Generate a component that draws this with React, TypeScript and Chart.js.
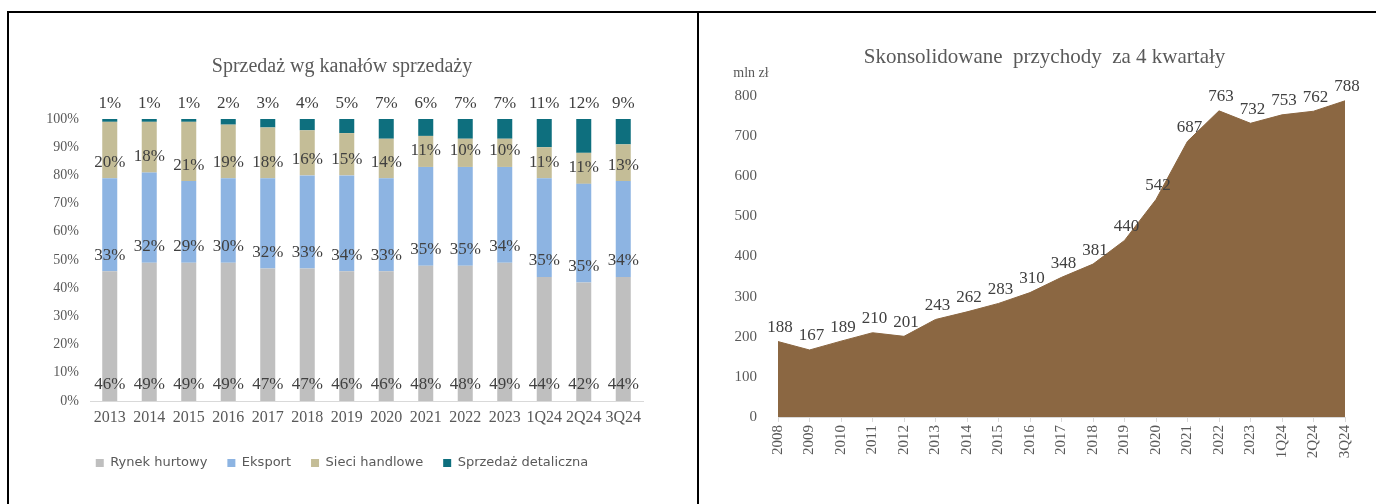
import React, { useEffect, useRef } from "react";
import { Chart, registerables } from "chart.js";

Chart.register(...registerables);

// ---- Left chart data: sales by channel (%) ----
const channelCategories = ["2013", "2014", "2015", "2016", "2017", "2018", "2019", "2020", "2021", "2022", "2023", "1Q24", "2Q24", "3Q24"];
const rynekHurtowy = [46, 49, 49, 49, 47, 47, 46, 46, 48, 48, 49, 44, 42, 44];
const eksport = [33, 32, 29, 30, 32, 33, 34, 33, 35, 35, 34, 35, 35, 34];
const sieciHandlowe = [20, 18, 21, 19, 18, 16, 15, 14, 11, 10, 10, 11, 11, 13];
const sprzedazDetaliczna = [1, 1, 1, 2, 3, 4, 5, 7, 6, 7, 7, 11, 12, 9];
const channelNames = ["Rynek hurtowy", "Eksport", "Sieci handlowe", "Sprzedaż detaliczna"];

// ---- Right chart data: consolidated revenue, 4 quarters (mln zł) ----
const revenueCategories = ["2008", "2009", "2010", "2011", "2012", "2013", "2014", "2015", "2016", "2017", "2018", "2019", "2020", "2021", "2022", "2023", "1Q24", "2Q24", "3Q24"];
const revenueValues = [188, 167, 189, 210, 201, 243, 262, 283, 310, 348, 381, 440, 542, 687, 763, 732, 753, 762, 788];

const SERIF = "'Liberation Serif', 'Times New Roman', serif";
const LABEL_COLOR = "#404040";
const TICK_COLOR = "#595959";

const barLabelsPlugin = {
  id: "barLabels",
  afterDatasetsDraw(chart: any) {
    const ctx = chart.ctx;
    ctx.save();
    ctx.font = `17px ${SERIF}`;
    ctx.fillStyle = LABEL_COLOR;
    ctx.textAlign = "center";
    ctx.textBaseline = "middle";
    chart.data.datasets.forEach((ds: any, di: number) => {
      const meta = chart.getDatasetMeta(di);
      meta.data.forEach((el: any, i: number) => {
        const txt = ds.data[i] + "%";
        if (di === chart.data.datasets.length - 1) {
          ctx.fillText(txt, el.x, chart.chartArea.top - 15);
        } else {
          ctx.fillText(txt, el.x, el.base - 16);
        }
      });
    });
    ctx.restore();
  },
};

const areaLabelsPlugin = {
  id: "areaLabels",
  afterDatasetsDraw(chart: any) {
    const ctx = chart.ctx;
    ctx.save();
    ctx.font = `17px ${SERIF}`;
    ctx.fillStyle = LABEL_COLOR;
    ctx.textAlign = "center";
    ctx.textBaseline = "middle";
    const ds = chart.data.datasets[0];
    const meta = chart.getDatasetMeta(0);
    meta.data.forEach((el: any, i: number) => {
      ctx.fillText(String(ds.data[i]), el.x + 2, el.y - 14);
    });
    // unit label above the y axis
    ctx.font = `14px ${SERIF}`;
    ctx.fillStyle = TICK_COLOR;
    ctx.fillText("mln zł", chart.chartArea.left - 27, chart.chartArea.top - 23);
    // chart title
    ctx.font = `21px ${SERIF}`;
    ctx.fillText("Skonsolidowane  przychody  za 4 kwartały", chart.width / 2 + 7, 44);
    ctx.restore();
  },
};

function ChannelChart() {
  const ref = useRef<HTMLCanvasElement | null>(null);
  useEffect(() => {
    if (!ref.current) return;
    const colors = ["#BFBFBF", "#8DB4E2", "#C4BD97", "#0E6F7E"];
    const series = [rynekHurtowy, eksport, sieciHandlowe, sprzedazDetaliczna];
    const chart = new Chart(ref.current, {
      type: "bar",
      data: {
        labels: channelCategories,
        datasets: series.map((d, i) => ({
          label: channelNames[i],
          data: d,
          backgroundColor: colors[i],
          borderWidth: 0,
          barPercentage: 0.38,
          categoryPercentage: 1,
        })),
      },
      options: {
        animation: false,
        responsive: false,
        maintainAspectRatio: false,
        layout: { padding: { left: 32, right: 54, top: 0, bottom: 24.5 } },
        plugins: {
          title: {
            display: true,
            text: "Sprzedaż wg kanałów sprzedaży",
            color: TICK_COLOR,
            font: { family: SERIF, size: 20, weight: "normal" },
            padding: { top: 42, bottom: 40 },
          },
          legend: {
            position: "bottom",
            labels: {
              boxWidth: 8,
              boxHeight: 8,
              padding: 20,
              color: TICK_COLOR,
              font: { family: "'DejaVu Sans', sans-serif", size: 13 },
            },
          },
          tooltip: { enabled: false },
        },
        scales: {
          x: {
            stacked: true,
            grid: { display: true, drawOnChartArea: false, drawTicks: false },
            border: { display: true, color: "#D9D9D9", width: 1 },
            ticks: { color: TICK_COLOR, font: { family: SERIF, size: 16 }, padding: 7, autoSkip: false, maxRotation: 0 },
            afterFit: (s: any) => { s.height = 35.5; },
          },
          y: {
            stacked: true,
            min: 0,
            max: 100,
            grid: { display: false },
            border: { display: false },
            ticks: { stepSize: 10, color: TICK_COLOR, font: { family: SERIF, size: 14 }, padding: 3, callback: (v: any) => v + "%" },
            afterFit: (s: any) => { s.width = 49; },
          },
        },
      },
      plugins: [barLabelsPlugin],
    } as any);
    return () => chart.destroy();
  }, []);
  return <canvas ref={ref} width={688} height={491} style={{ position: "absolute", left: 9, top: 13, width: 688, height: 491 }} />;
}

function RevenueChart() {
  const ref = useRef<HTMLCanvasElement | null>(null);
  useEffect(() => {
    if (!ref.current) return;
    const brown = "#8B6742";
    const chart = new Chart(ref.current, {
      type: "line",
      data: {
        labels: revenueCategories,
        datasets: [
          {
            label: "Przychody",
            data: revenueValues,
            fill: "origin",
            backgroundColor: brown,
            borderColor: brown,
            borderWidth: 1,
            pointRadius: 0,
            tension: 0,
          },
        ],
      },
      options: {
        animation: false,
        responsive: false,
        maintainAspectRatio: false,
        layout: { padding: { left: 0, right: 31, top: 83, bottom: 0 } },
        plugins: {
          title: { display: false },
          legend: { display: false },
          tooltip: { enabled: false },
        },
        scales: {
          x: {
            offset: false,
            grid: { display: true, drawOnChartArea: false, drawTicks: true, tickLength: 5, color: "#D9D9D9" },
            border: { display: true, color: "#D9D9D9", width: 1 },
            ticks: { color: TICK_COLOR, font: { family: SERIF, size: 15 }, padding: 3, autoSkip: false, minRotation: 90, maxRotation: 90 },
            afterFit: (s: any) => { s.height = 87; },
          },
          y: {
            min: 0,
            max: 800,
            grid: { display: false },
            border: { display: false },
            ticks: { stepSize: 100, color: TICK_COLOR, font: { family: SERIF, size: 15 }, padding: 13 },
            afterFit: (s: any) => { s.width = 79; },
          },
        },
      },
      plugins: [areaLabelsPlugin],
    } as any);
    return () => chart.destroy();
  }, []);
  return <canvas ref={ref} width={677} height={491} style={{ position: "absolute", left: 699, top: 13, width: 677, height: 491 }} />;
}

export default function App() {
  return (
    <div style={{ position: "absolute", left: 0, top: 0, width: 1376, height: 504, overflow: "hidden", background: "#ffffff" }}>
      <div style={{ position: "absolute", left: 7, top: 11, width: 1400, height: 2, background: "#000" }} />
      <div style={{ position: "absolute", left: 7, top: 11, width: 2, height: 500, background: "#000" }} />
      <div style={{ position: "absolute", left: 697, top: 11, width: 2, height: 500, background: "#000" }} />
      <ChannelChart />
      <RevenueChart />
    </div>
  );
}
